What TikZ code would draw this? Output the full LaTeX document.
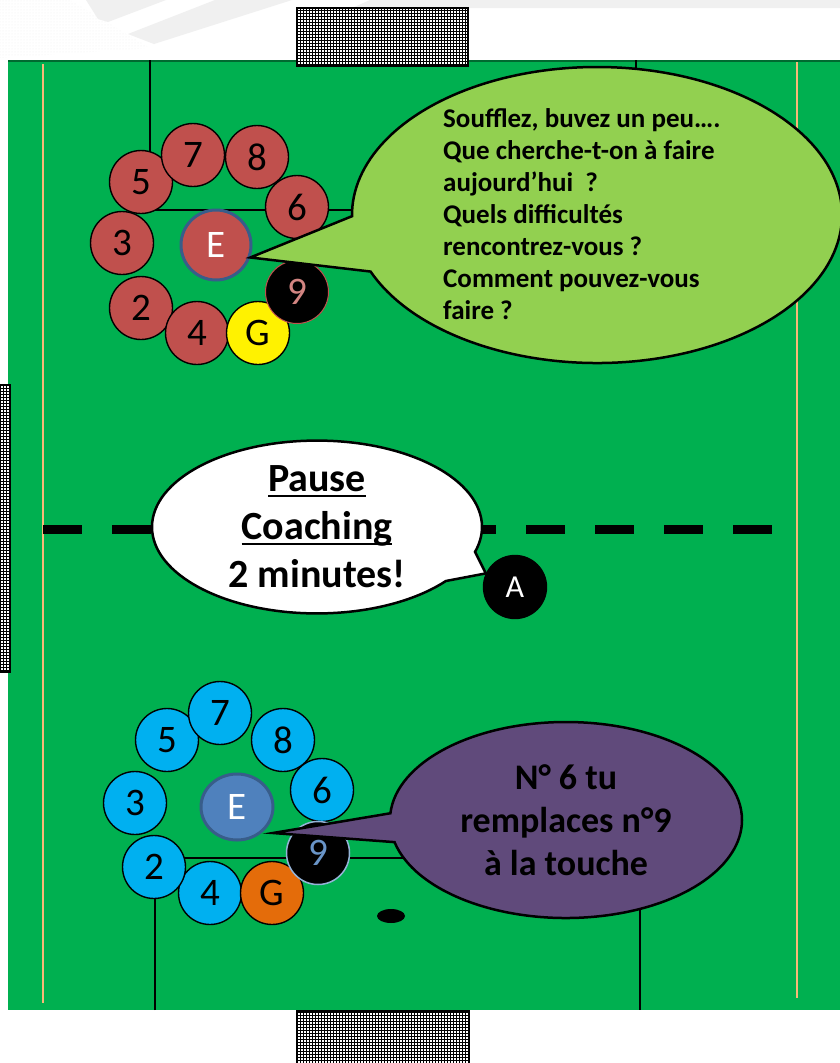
\documentclass[tikz,border=0pt]{standalone}
\usepackage{fontspec}
\setmainfont{Carlito}
\usetikzlibrary{shapes.geometric,shapes.callouts,patterns}
\definecolor{terrain}{HTML}{00B050}
\definecolor{ligne}{HTML}{F8B878}
\definecolor{vertclair}{HTML}{92D050}
\definecolor{rougeE}{HTML}{C0504D}
\definecolor{bleuE}{HTML}{00B0F0}
\definecolor{bleuC}{HTML}{4F81BD}
\definecolor{bleuF}{HTML}{385D8A}
\definecolor{orangeG}{HTML}{E46C0A}
\definecolor{violetB}{HTML}{604A7B}
\definecolor{gris}{HTML}{F0F0F0}
\newcommand{\souligne}[1]{\leavevmode\setbox0\hbox{#1}\rlap{\rule[-5pt]{\wd0}{2pt}}\box0}
\tikzset{
  joueur/.style={circle, draw=black, line width=1.4pt, minimum size=63pt, inner sep=0pt,
    font=\fontsize{39}{39}\selectfont},
  rouge/.style={joueur, fill=rougeE},
  bleu/.style={joueur, fill=bleuE},
  but/.style={preaction={fill=white}, pattern=grid, draw=black, line width=2pt},
  bulle/.style={ellipse callout, draw=black, line width=2.5pt, inner sep=0pt, text=black}
}
\begin{document}
\begin{tikzpicture}[x=1pt, y=-1pt]
    \useasboundingbox[fill=white] (0,0) rectangle (840,1063);
    % fond
    \fill[gris] (86,0) -- (166,0) -- (108,22) -- (98,19) -- cycle;
    \fill[gris] (215,0) -- (292,0) -- (154,44) -- (128,34) -- cycle;
    \fill[gris] (370,0) -- (840,0) -- (840,8) -- (352,8) -- cycle;
    \fill[pattern=dots, pattern color=black!6] (0,0) -- (70,0) -- (150,48) -- (0,58) -- cycle;
    % terrain
    \fill[terrain] (8,60) rectangle (840,1010);
    \draw[black!40!terrain, line width=1.5pt] (8,61) -- (840,61);
    \draw[ligne, line width=2pt] (43,64) -- (43,1003);
    \draw[ligne, line width=2pt] (797,62) -- (797,998);
    \draw[line width=1.5pt] (150,60) -- (150,210) -- (636,210) -- (636,60);
    \draw[line width=1.5pt] (155,1010) -- (155,858) -- (640,858) -- (640,1010);
    \fill (391,916) ellipse [x radius=14pt, y radius=7pt];
    \draw[line width=9pt, dash pattern=on 39pt off 30pt] (43,529.5) -- (772,529.5);
    % buts
    \draw[but] (297,8) rectangle (468,66);
    \draw[but] (297,1011) rectangle (469,1070);
    \draw[but] (-5,385) rectangle (10,672);
    % equipe rouge
    \foreach \n/\x/\y in {3/122/243, 5/141/182, 7/193/155, 8/257/157, 6/297/207,
        2/141/308, 4/197/333}{
        \node[rouge] (r\n) at (\x,\y) {\n};
    }
    \node[joueur, fill=yellow] (rG) at (258,333) {G};
    \node[joueur, fill=black, draw=rougeE, line width=1pt, text=rougeE!70!white] (r9) at (297,292) {9};
    \node[joueur, fill=rougeE, draw=bleuF, line width=3pt, minimum size=70pt, text=white] (rE) at (216,245) {E};
    % equipe bleue
    \foreach \n/\x/\y in {3/135/803, 5/167/740, 7/220/713, 8/283/740, 6/322/790,
        4/210/893, 2/154/867}{
        \node[bleu] (b\n) at (\x,\y) {\n};
    }
    \node[joueur, fill=orangeG] (bG) at (272,893) {G};
    \node[joueur, fill=black, draw=bleuC!60!white, line width=1.5pt, text=bleuC!85!white] (b9) at (318,853) {9};
    \node[joueur, ellipse, fill=bleuC, draw=bleuF, line width=3pt, minimum width=72pt,
        minimum height=66pt, text=white] (bE) at (237,807) {E};
    \node[joueur, fill=black, text=white, font=\fontsize{32}{32}\selectfont] (A) at (515,587) {A};
    \coordinate (pointeB) at (273,833);
    % bulles
    \node[bulle, fill=vertclair, minimum width=490pt, minimum height=296pt,
        callout absolute pointer={(rE.-20)}, callout pointer arc=22] (bulleR) at (597,215) {};
    \node[anchor=north west, align=left, inner sep=0pt, text=black,
        font=\bfseries\fontsize{27}{32}\selectfont] (consignesR) at (443,108)
        {Soufflez, buvez un peu….\\Que cherche-t-on à faire\\aujourd’hui \ ?\\Quels difficultés\\
         rencontrez-vous ?\\Comment pouvez-vous\\faire ?};
    \node[bulle, fill=white, minimum width=330pt, minimum height=170pt,
        callout absolute pointer={(A.155)}, callout pointer arc=22, align=center,
        font=\bfseries\fontsize{40}{48}\selectfont] (bulleA) at (317,527)
        {\souligne{Pause}\\\souligne{Coaching}\\2 minutes!};
    \node[bulle, fill=violetB, minimum width=352pt, minimum height=196pt,
        callout absolute pointer={(pointeB)}, callout pointer arc=17, align=center,
        font=\bfseries\fontsize{36}{43}\selectfont] (bulleB) at (566,820)
        {N° 6 tu\\remplaces n°9\\à la touche};
\end{tikzpicture}
\end{document}
